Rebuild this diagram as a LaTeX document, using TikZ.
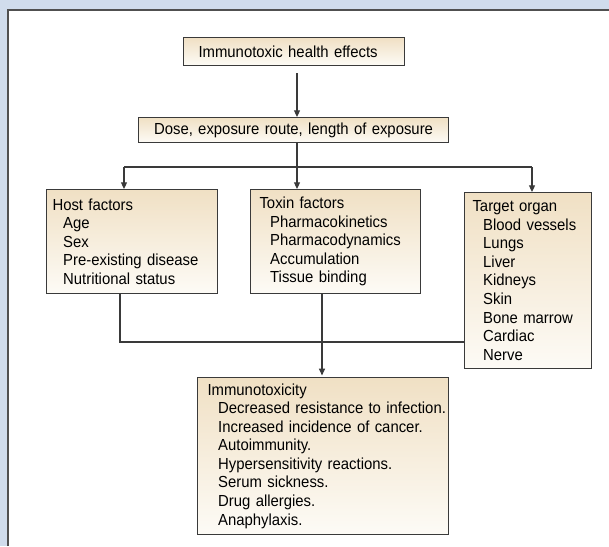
\documentclass[tikz,border=0pt]{standalone}
\usepackage{fontspec}
\setmainfont{Liberation Sans}[FakeStretch=0.93]
\usetikzlibrary{arrows.meta}
\definecolor{pageblue}{RGB}{208, 220, 236}
\definecolor{boxtan}{RGB}{240, 224, 196}
\definecolor{boxcream}{RGB}{253, 251, 246}
\definecolor{inkgray}{RGB}{58, 58, 58}
\definecolor{framegray}{RGB}{80, 80, 80}
\newcommand{\listgap}{\hspace*{8pt}}
\tikzset{
  factorbox/.style={draw=inkgray, line width=0.8pt, top color=boxtan, bottom color=boxcream,
                    anchor=north west, align=left, inner xsep=6pt, inner ysep=0pt,
                    font=\fontsize{12}{13.9}\selectfont},
  link/.style={inkgray, line width=0.8pt},
  arrow/.style={link, -{Triangle[length=5pt, width=4.5pt]}}
}

\begin{document}
\begin{tikzpicture}[x=0.75pt, y=-0.75pt]
            % Page and panel
            \useasboundingbox                                   (0, 0) rectangle (609, 546);
            \fill[pageblue]                                     (0, 0) rectangle (609, 546);
            \fill[white]                                        (8, 10) rectangle (609, 546);
            \draw[framegray, line width=1.2pt]                  (8, 546) -- (8, 10) -- (609, 10);
            % Boxes
            \node[factorbox, inner xsep=11.25pt, text width=143.25pt, minimum height=21pt]
                 (effects) at (183, 37) {Immunotoxic health effects};
            \node[factorbox, align=center, text width=220.5pt, minimum height=18.75pt]
                 (dose) at (138, 117) {Dose, exposure route, length of exposure};
            \node[factorbox, inner xsep=4.5pt, text width=119.25pt, minimum height=78pt]
                 (host) at (46, 189) {Host factors\\ \listgap Age\\ \listgap Sex\\
                 \listgap Pre-existing disease\\ \listgap Nutritional status};
            \node[factorbox, inner xsep=6.75pt, text width=114pt, minimum height=78pt]
                 (toxin) at (250, 189) {Toxin factors\\ \listgap Pharmacokinetics\\
                 \listgap Pharmacodynamics\\ \listgap Accumulation\\ \listgap Tissue binding};
            \node[factorbox, text width=83.25pt, minimum height=132pt]
                 (organ) at (464, 192) {Target organ\\ \listgap Blood vessels\\ \listgap Lungs\\
                 \listgap Liver\\ \listgap Kidneys\\ \listgap Skin\\ \listgap Bone marrow\\
                 \listgap Cardiac\\ \listgap Nerve};
            \node[factorbox, inner xsep=7.5pt, text width=173.25pt, minimum height=117.75pt]
                 (immuno) at (197, 377) {Immunotoxicity\\
                 \listgap\mbox{Decreased resistance to infection.}\\
                 \listgap Increased incidence of cancer.\\ \listgap Autoimmunity.\\
                 \listgap Hypersensitivity reactions.\\ \listgap Serum sickness.\\
                 \listgap Drug allergies.\\ \listgap Anaphylaxis.};
            % Branch points
            \coordinate (spine)    at (297, 167);
            \coordinate (hostdrop) at (124, 167);
            \coordinate (orgdrop)  at (532, 167);
            \coordinate (join)     at (120, 342);
            \coordinate (toxdrop)  at (322, 342);
            % Effects to dose
            \draw[arrow, shorten <=5.25pt]  (effects.south -| spine) -- (dose.north -| spine);
            % Dose to the three factors
            \draw[link]                     (dose.south -| spine) -- (spine);
            \draw[link]                     (hostdrop) -- (orgdrop);
            \draw[arrow]                    (hostdrop) -- (hostdrop |- host.north);
            \draw[arrow]                    (spine)    -- (spine |- toxin.north);
            \draw[arrow]                    (orgdrop)  -- (orgdrop |- organ.north);
            % Factors to immunotoxicity
            \draw[link]                     (host.south -| join) -- (join) -- (join -| organ.west);
            \draw[arrow, shorten >=1.2pt]   (toxin.south -| toxdrop) -- (toxdrop |- immuno.north);
        \end{tikzpicture}
\end{document}
